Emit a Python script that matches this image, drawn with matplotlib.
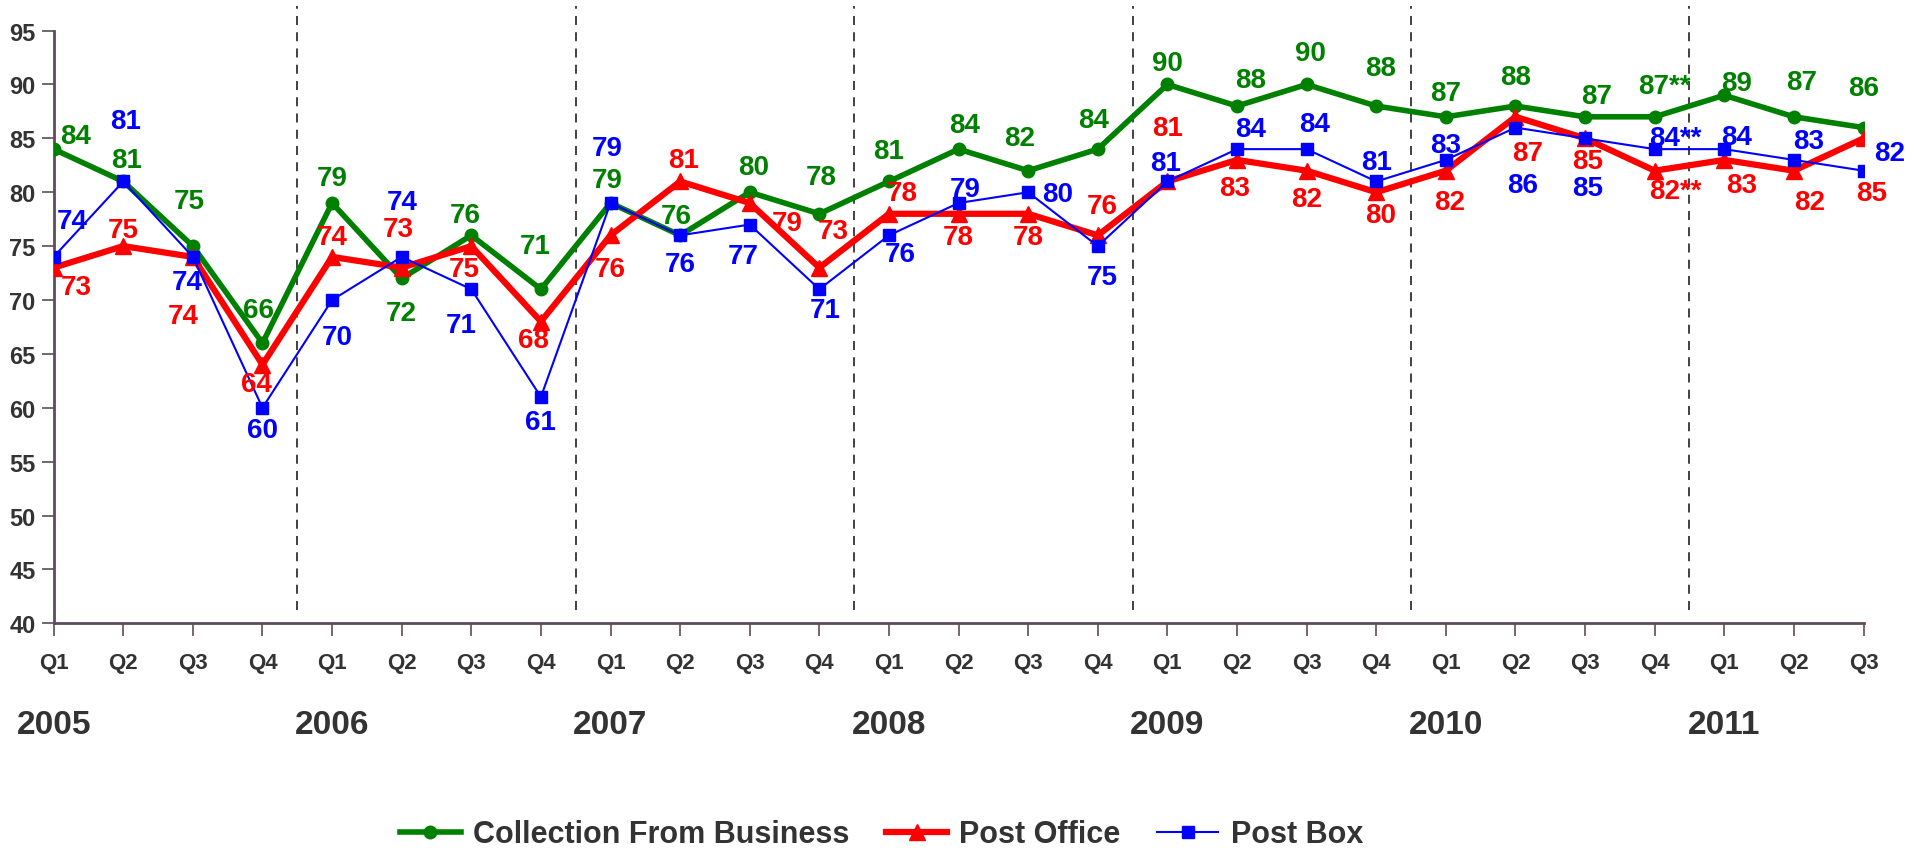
import matplotlib.pyplot as plt
import matplotlib.transforms as mtransforms
import numpy as np

plt.rcParams['font.family'] = ['Liberation Sans Narrow', 'Liberation Sans', 'DejaVu Sans']
plt.rcParams['font.weight'] = 'bold'

years = ['2005', '2006', '2007', '2008', '2009', '2010', '2011']
quarters = ['Q1', 'Q2', 'Q3', 'Q4'] * 6 + ['Q1', 'Q2', 'Q3']

business = [84, 81, 75, 66, 79, 72, 76, 71, 79, 76, 80, 78, 81, 84, 82, 84,
            90, 88, 90, 88, 87, 88, 87, 87, 89, 87, 86]
post_office = [73, 75, 74, 64, 74, 73, 75, 68, 76, 81, 79, 73, 78, 78, 78, 76,
               81, 83, 82, 80, 82, 87, 85, 82, 83, 82, 85]
post_box = [74, 81, 74, 60, 70, 74, 71, 61, 79, 76, 77, 71, 76, 79, 80, 75,
            81, 84, 84, 81, 83, 86, 85, 84, 84, 83, 82]
flagged = [23]  # points marked with **

# label offsets (quarters, value units) relative to each point
biz_off = [(0.32, 1.2), (0.05, 2.0), (-0.05, 4.2), (-0.05, 3.1), (0, 2.3), (0, -3.2),
           (-0.08, 1.9), (-0.08, 4.0), (-0.05, 2.1), (-0.05, 1.8), (0.05, 2.3), (0.03, 3.4),
           (0, 2.8), (0.09, 2.2), (-0.13, 3.0), (-0.06, 2.7), (0, 2.0), (0.2, 2.4),
           (0.05, 2.9), (0.06, 3.5), (0, 2.2), (0, 2.7), (0.17, 1.9), (0.14, 2.9),
           (0.18, 1.1), (0.11, 3.2), (0, 3.7)]
po_off = [(0.32, -1.8), (0, 1.5), (-0.14, -5.5), (-0.08, -1.8), (0, 1.8), (-0.05, 3.6),
          (-0.1, -2.1), (-0.1, -1.7), (0, -3.1), (0.05, 1.95), (0.54, -1.9), (0.2, 3.4),
          (0.19, 1.9), (0, -2.2), (0, -2.2), (0.06, 2.7), (0, 5.0), (-0.03, -2.6),
          (0, -2.6), (0.07, -2.1), (0.06, -2.9), (0.18, -3.4), (0.03, -2.1), (0.3, -1.9),
          (0.25, -2.3), (0.23, -2.9), (0.11, -5.1)]
pb_off = [(0.27, 3.3), (0.04, 5.6), (-0.08, -2.3), (0, -2.1), (0.08, -3.4), (0, 5.1),
          (-0.15, -3.3), (0, -2.3), (-0.05, 5.1), (0, -2.7), (-0.1, -2.9), (0.08, -1.9),
          (0.16, -1.7), (0.09, 1.3), (0.43, -0.2), (0.07, -2.85), (-0.03, 1.7), (0.19, 1.9),
          (0.11, 2.3), (0, 1.85), (0, 1.4), (0.1, -5.3), (0.03, -4.6), (0.3, 1.0),
          (0.18, 1.1), (0.21, 1.8), (0.37, 1.6)]

green, red, blue = '#008000', '#FF0000', '#0000FF'
axis_col = '#5E4B5B'
text_col = '#333333'

fig = plt.figure(figsize=(19.16, 8.54), dpi=100)
ax = fig.add_axes([0.028, 0.269, 0.9446, 0.694])
x = np.arange(len(quarters))

ax.plot(x, business, color=green, lw=4, marker='o', ms=9, label='Collection From Business', zorder=3)
ax.plot(x, post_office, color=red, lw=4.5, marker='^', ms=11, label='Post Office', zorder=4)
ax.plot(x, post_box, color=blue, lw=1.5, marker='s', ms=8, label='Post Box', zorder=5)

for vals, offs, col in [(business, biz_off, green), (post_office, po_off, red), (post_box, pb_off, blue)]:
    for i, v in enumerate(vals):
        lab = f'{v}**' if i in flagged else f'{v}'
        ax.text(i + offs[i][0], v + offs[i][1], lab, color=col, fontsize=20,
                fontweight='bold', ha='center', va='center', zorder=6)

# year separators
for k in range(1, len(years)):
    ax.plot([4 * k - 0.5] * 2, [41.2, 97.3], ls=(0, (5, 4)), color=text_col, lw=1.3,
            clip_on=False, zorder=1)

ax.set_xlim(0, len(quarters) - 1)
ax.set_ylim(40, 95)
ax.set_yticks(np.arange(40, 96, 5))
ax.set_xticks(x)
ax.set_xticklabels(quarters)
ax.tick_params(axis='x', length=9, width=1.2, color=axis_col, labelsize=16,
               labelcolor=text_col, pad=12)
ax.tick_params(axis='y', length=9, width=1.2, color=axis_col, labelsize=17,
               labelcolor=text_col, pad=4)
for spine in ['top', 'right']:
    ax.spines[spine].set_visible(False)
for spine in ['left', 'bottom']:
    ax.spines[spine].set_color(axis_col)
    ax.spines[spine].set_linewidth(2)

trans = mtransforms.blended_transform_factory(ax.transData, ax.transAxes)
for k, yr in enumerate(years):
    ax.text(4 * k, -0.17, yr, transform=trans, ha='center', va='center',
            fontsize=24, fontweight='bold', color=text_col)

fig.legend(loc='center', bbox_to_anchor=(0.46, 0.022), ncol=3, frameon=False,
           fontsize=22, handlelength=2.0, columnspacing=1.2, handletextpad=0.4,
           labelcolor=text_col)

fig.savefig('out.png', dpi=100)
